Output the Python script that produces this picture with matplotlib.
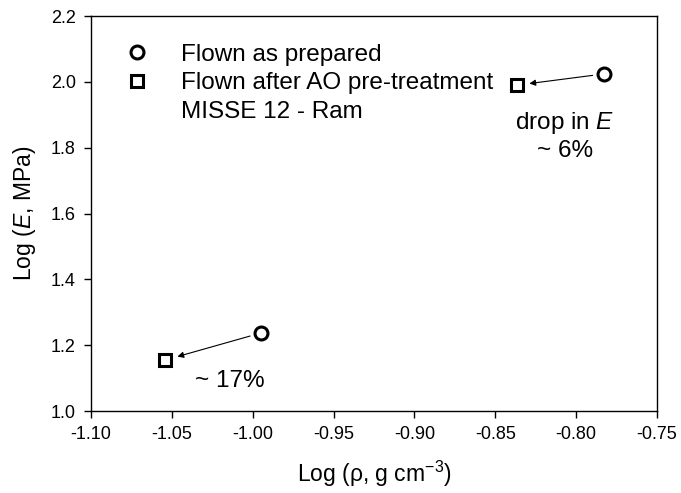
import matplotlib
matplotlib.use("Agg")
import matplotlib.pyplot as plt
from matplotlib.lines import Line2D

plt.rcParams['font.family'] = ['Liberation Sans', 'DejaVu Sans']
plt.rcParams['mathtext.fontset'] = 'custom'
plt.rcParams['mathtext.it'] = 'Liberation Sans:italic'
plt.rcParams['mathtext.rm'] = 'Liberation Sans'

# Log density and log modulus for the two sample pairs
log_rho_prepared = [-0.783, -0.995]
log_E_prepared = [2.024, 1.237]
log_rho_pretreated = [-0.8366, -1.054]
log_E_pretreated = [1.990, 1.155]
drop_labels = ["drop in $E$\n~ 6%", "~ 17%"]

x_ticks = [-1.10, -1.05, -1.00, -0.95, -0.90, -0.85, -0.80, -0.75]
y_ticks = [1.0, 1.2, 1.4, 1.6, 1.8, 2.0, 2.2]

fig = plt.figure(figsize=(6.81, 4.93), dpi=100)
ax = fig.add_axes([0.1336, 0.1663, 0.8312, 0.8012])

base = dict(markeredgewidth=2.2, markerfacecolor='white',
            markeredgecolor='black', linestyle='none')
circ = dict(marker='o', markersize=9.3, **base)
sq = dict(marker='s', markersize=8.3, **base)
ax.plot(log_rho_prepared, log_E_prepared, zorder=3, **circ)
ax.plot(log_rho_pretreated, log_E_pretreated, zorder=3, **sq)

# Arrows from the as-prepared point to the pre-treated point
for x0, y0, x1, y1 in zip(log_rho_prepared, log_E_prepared,
                          log_rho_pretreated, log_E_pretreated):
    ax.annotate("", xy=(x1, y1), xytext=(x0, y0),
                arrowprops=dict(arrowstyle='-|>', color='black', lw=0.8,
                                mutation_scale=9, shrinkA=8, shrinkB=9))

ax.text(-0.807, 1.835, drop_labels[0], ha='center', va='center',
        fontsize=17.5, linespacing=1.2)
ax.text(-1.0355, 1.092, drop_labels[1], ha='left', va='center', fontsize=17.5)

ax.set_xlim(-1.10, -0.75)
ax.set_ylim(1.0, 2.2)
ax.set_xticks(x_ticks)
ax.set_xticklabels([f"{v:.2f}" for v in x_ticks])
ax.set_yticks(y_ticks)
ax.set_yticklabels([f"{v:.1f}" for v in y_ticks])
ax.tick_params(direction='out', length=5, width=1, labelsize=13, pad=6)
for s in ax.spines.values():
    s.set_linewidth(1)

ax.set_xlabel("Log (ρ, g cm$^{-3}$)", fontsize=16.5, labelpad=11)
ax.set_ylabel("Log ($E$, MPa)", fontsize=16.5, labelpad=9)

handles = [
    Line2D([], [], **circ),
    Line2D([], [], **sq),
    Line2D([], [], linestyle='none'),
]
ax.legend(handles, ["Flown as prepared", "Flown after AO pre-treatment",
                    "MISSE 12 - Ram"],
          loc='upper left', bbox_to_anchor=(0.0326, 0.955), frameon=False,
          fontsize=17.5, handletextpad=1.04, labelspacing=0.285,
          borderaxespad=0, handlelength=1.5)

fig.savefig("out.png", dpi=100)
